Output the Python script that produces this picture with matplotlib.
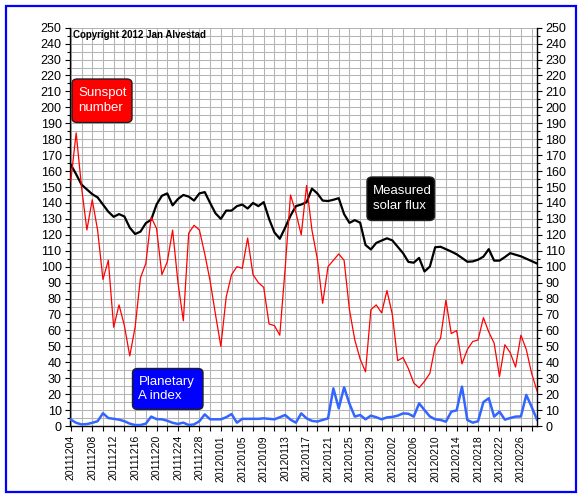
import numpy as np
import matplotlib.pyplot as plt
from matplotlib.patches import Rectangle, FancyBboxPatch
from matplotlib.ticker import MultipleLocator

# daily values, 2011-12-04 .. 2012-02-29
# -------------------------------------------------------------------------------------
solar_flux = [164, 158, 151.5, 148.5, 145.5, 143.5, 139, 134.5, 131.3, 133,
              131.5, 124.5, 120.5, 122, 127.3, 129.5, 139, 144.5, 146, 138.5,
              142.5, 145, 144, 141.5, 146, 146.8, 140, 133.5, 130, 135.2,
              135.2, 138, 139, 136.5, 140, 138, 140.5, 130, 121.5, 117.5,
              124.5, 132, 138, 139, 140.5, 149, 146, 141.5, 141.2, 142,
              143, 133, 127.5, 129.2, 127.6, 113.6, 110.8, 114.9, 116.4, 117.8,
              116.5, 112.5, 108.5, 103, 102.5, 105.5, 97, 100, 112.2, 112.5,
              111, 109.5, 107.8, 105.5, 103.1, 103.3, 104.4, 106.3, 111, 103.8,
              103.8, 106, 108.5, 107.5, 106.5, 105, 103.5, 102]

sunspot_number = [154, 184, 150, 123, 142, 123, 92, 104, 62, 76,
                  63, 44, 62, 93, 102, 131, 124, 95, 103, 123,
                  90, 66, 121, 126, 123, 108, 91, 70, 50, 81,
                  95, 100, 99, 118, 95, 90, 87, 64, 63, 57,
                  99, 145, 134, 120, 151, 123, 105, 77, 100, 104,
                  108, 104, 73, 54, 42, 34, 73, 76, 71, 85,
                  70, 41, 43, 36, 27, 24, 28, 33, 50, 55,
                  79, 58, 60, 39, 48, 53, 54, 68, 59, 52,
                  31, 51, 46, 37, 57, 48, 33, 22]

a_index = [4, 2, 1, 1.2, 2, 3, 8, 5, 4.5, 4,
           3, 1.5, 0.6, 0.6, 1.5, 5.9, 4.3, 4.2, 3.3, 2,
           1.3, 2.1, 0.6, 1, 3, 7.3, 4.2, 4.2, 4.2, 5.5,
           7.5, 2.1, 4.5, 4.5, 4.5, 4.5, 4.8, 4.5, 4.2, 5.5,
           6.9, 4, 2.1, 7.9, 4.8, 3.2, 2.8, 3.8, 4.8, 23.6,
           11.1, 24.3, 14, 5.9, 6.9, 4.2, 6.5, 5.5, 4.2, 5.4,
           5.7, 6.5, 7.9, 7.7, 5.9, 14.2, 10, 6, 4.2, 3.8,
           2.7, 9, 9.8, 24.7, 3.8, 2.1, 3, 15, 17.4, 5.9,
           9, 4, 5, 5.9, 6, 19.5, 12, 4]

date_labels = ["20111204", "20111208", "20111212", "20111216", "20111220",
               "20111224", "20111228", "20120101", "20120105", "20120109",
               "20120113", "20120117", "20120121", "20120125", "20120129",
               "20120202", "20120206", "20120210", "20120214", "20120218",
               "20120222", "20120226"]

days = np.arange(len(solar_flux))

plt.rcParams['font.family'] = ['Liberation Sans', 'DejaVu Sans']

W, H = 583, 498
fig = plt.figure(figsize=(W / 100, H / 100), dpi=100)
ax = fig.add_axes([70 / W, 1 - 426 / H, (537 - 70) / W, (426 - 27.7) / H])

# grid
# -------------------------------------------------------------------------------------
ax.set_xlim(-0.15, 87.0)
ax.set_ylim(0, 250)
ax.set_xticks(np.arange(0, 4 * len(date_labels), 4))
ax.set_xticklabels(date_labels, rotation=90, fontsize=7.5)
ax.xaxis.set_minor_locator(MultipleLocator(2))
ax.yaxis.set_major_locator(MultipleLocator(10))
ax.yaxis.set_minor_locator(MultipleLocator(5))
ax.grid(which='both', color='#b4b4b4', lw=0.75)
ax.set_axisbelow(True)

ax.tick_params(axis='y', which='both', left=True, right=True,
               labelleft=True, labelright=True, labelsize=9, pad=2.5)
ax.tick_params(axis='y', which='major', length=3.5, width=0.8)
ax.tick_params(axis='y', which='minor', length=2.5, width=0.8)
ax.tick_params(axis='x', which='both', length=3.5, width=0.8, pad=3)
ax.spines['top'].set_visible(False)
for s in ['left', 'right', 'bottom']:
    ax.spines[s].set_linewidth(1.0)

# series
# -------------------------------------------------------------------------------------
ax.plot(days, solar_flux, color='black', lw=1.6, zorder=3,
        solid_joinstyle='round')
ax.plot(days, sunspot_number, color='#ff0000', lw=0.9, zorder=4,
        solid_joinstyle='round')
ax.plot(days, a_index, color='#3366ff', lw=1.8, zorder=5,
        solid_joinstyle='round')

# annotations
# -------------------------------------------------------------------------------------
fig.text(73 / W, 1 - 34.5 / H, "Copyright 2012 Jan Alvestad",
         fontsize=7, fontweight='bold', va='center')


def label_box(x0, y0, x1, y1, text, fc):
    box = FancyBboxPatch((x0 / W, 1 - y1 / H), (x1 - x0) / W, (y1 - y0) / H,
                         boxstyle='round,pad=0,rounding_size=0.009',
                         transform=fig.transFigure, fc=fc, ec='#202020',
                         lw=1, zorder=10)
    fig.patches.append(box)
    fig.text((x0 + 6) / W, 1 - (y0 + y1) / 2 / H, text, color='white',
             fontsize=9.5, va='center', ha='left', linespacing=1.3, zorder=11)


label_box(72, 79, 132, 122.5, "Sunspot\nnumber", '#ff0000')
label_box(367, 177, 434.5, 220.5, "Measured\nsolar flux", 'black')
label_box(132.5, 368.5, 203, 409.5, "Planetary\nA index", '#0000ff')

# blue frame
fig.patches.append(Rectangle((6 / W, 6 / H), 570 / W, 486 / H,
                             transform=fig.transFigure, fill=False,
                             edgecolor='#0000ff', lw=1.6))

fig.savefig("out.png", dpi=100)
